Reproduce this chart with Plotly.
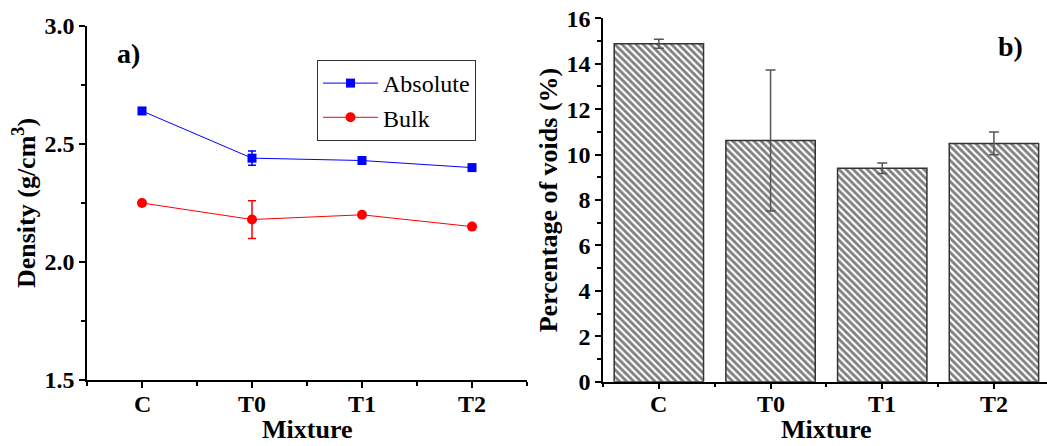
import plotly.graph_objects as go

categories = ["C", "T0", "T1", "T2"]
absolute = [2.64, 2.44, 2.43, 2.40]
absolute_err = [0.0, 0.03, 0.0, 0.0]
bulk = [2.25, 2.18, 2.20, 2.15]
bulk_err = [0.0, 0.08, 0.0, 0.0]
voids = [14.88, 10.62, 9.40, 10.49]
voids_err = [0.2, 3.1, 0.23, 0.5]

x = list(range(len(categories)))
W, H = 1047, 446
FONT = "Liberation Serif"

fig = go.Figure()
fig.add_trace(go.Scatter(
    x=x, y=absolute, name="Absolute", mode="lines+markers",
    line=dict(color="#0000ff", width=1),
    marker=dict(symbol="square", size=9, color="#0000ff"),
    error_y=dict(type="data", array=absolute_err, color="#0000ff", thickness=1.5, width=4),
    xaxis="x", yaxis="y"))
fig.add_trace(go.Scatter(
    x=x, y=bulk, name="Bulk", mode="lines+markers",
    line=dict(color="#ff0000", width=1),
    marker=dict(symbol="circle", size=10, color="#ff0000"),
    error_y=dict(type="data", array=bulk_err, color="#ff0000", thickness=1.5, width=4),
    xaxis="x", yaxis="y"))
fig.add_trace(go.Bar(
    x=x, y=voids, width=0.8, showlegend=False,
    marker=dict(color="white", line=dict(color="#333333", width=1.5),
                pattern=dict(shape="\\", size=5, solidity=0.55, fgcolor="black", bgcolor="white")),
    error_y=dict(type="data", array=voids_err, color="#555555", thickness=1.5, width=5),
    xaxis="x2", yaxis="y2"))

tickfont = dict(family=FONT, size=24, color="black")
titlefont = dict(family=FONT, size=26, color="black")

common_x = dict(
    tickmode="array", tickvals=x, ticktext=categories, showticklabels=False,
    range=[-0.5, 3.5], showline=True, linecolor="black", linewidth=1.5,
    ticks="outside", ticklen=6, tickwidth=1.5, tickcolor="black",
    minor=dict(tickmode="linear", tick0=0.5, dtick=1, ticks="outside", ticklen=4, tickwidth=1.5, tickcolor="black"),
    showgrid=False, zeroline=False, tickfont=tickfont, automargin=False)

annotations = []
# x tick labels and x titles, positioned with each axis' own scale
for xa in ("x", "x2"):
    for xi, cat in zip(x, categories):
        annotations.append(dict(text=f"<b>{cat}</b>", x=xi, y=1 - 404 / H, xref=xa, yref="paper",
                                xanchor="center", yanchor="middle", showarrow=False, font=tickfont))
    annotations.append(dict(text="<b>Mixture</b>", x=1.5, y=0, xref=xa, yref="paper",
                            xanchor="center", yanchor="bottom", showarrow=False, font=titlefont))
annotations.append(dict(text="<b>a)</b>", x=128 / W, y=1 - 53 / H, xref="paper", yref="paper",
                        xanchor="center", yanchor="middle",
                        showarrow=False, font=dict(family=FONT, size=28, color="black")))
annotations.append(dict(text="<b>b)</b>", x=1010 / W, y=1 - 47 / H, xref="paper", yref="paper",
                        xanchor="center", yanchor="middle",
                        showarrow=False, font=dict(family=FONT, size=28, color="black")))

fig.update_layout(
    width=W, height=H, margin=dict(l=0, r=0, t=0, b=0, autoexpand=False),
    paper_bgcolor="white", plot_bgcolor="white",
    font=dict(family=FONT, color="black"),
    xaxis=dict(domain=[87 / W, 527 / W], anchor="y", **common_x),
    yaxis=dict(domain=[1 - 380 / H, 1 - 26 / H], anchor="x", range=[1.5, 3.0],
               tickmode="array", tickvals=[1.5, 2.0, 2.5, 3.0],
               ticktext=["<b>1.5</b>", "<b>2.0</b>", "<b>2.5</b>", "<b>3.0</b>"],
               showline=True, linecolor="black", linewidth=1.5,
               ticks="outside", ticklen=6, tickwidth=1.5, tickcolor="black",
               minor=dict(tickmode="linear", tick0=1.75, dtick=0.5, ticks="outside", ticklen=4, tickwidth=1.5, tickcolor="black"),
               showgrid=False, zeroline=False, tickfont=tickfont, automargin=False,
               title=dict(text="<b>Density (g/cm<sup>3</sup>)</b>", font=titlefont, standoff=1)),
    xaxis2=dict(domain=[603 / W, 1.0], anchor="y2", **{**common_x, "range": [-0.5, 3.475]}),
    yaxis2=dict(domain=[1 - 381.7 / H, 1 - 18.3 / H], anchor="x2", range=[0, 16],
                tickmode="array", tickvals=list(range(0, 17, 2)),
                ticktext=[f"<b>{v}</b>" for v in range(0, 17, 2)],
                showline=True, linecolor="black", linewidth=1.5,
                ticks="outside", ticklen=6, tickwidth=1.5, tickcolor="black",
                minor=dict(tickmode="linear", tick0=1, dtick=2, ticks="outside", ticklen=4, tickwidth=1.5, tickcolor="black"),
                showgrid=False, zeroline=False, tickfont=tickfont, automargin=False,
                title=dict(text="<b>Percentage of voids (%)</b>", font=titlefont, standoff=1)),
    legend=dict(x=317 / W, y=1 - 60 / H, xanchor="left", yanchor="top",
                bordercolor="#333333", borderwidth=1, bgcolor="white", itemwidth=55,
                font=dict(family=FONT, size=24, color="black"), tracegroupgap=0),
    annotations=annotations,
)

fig.write_html("out.html")
